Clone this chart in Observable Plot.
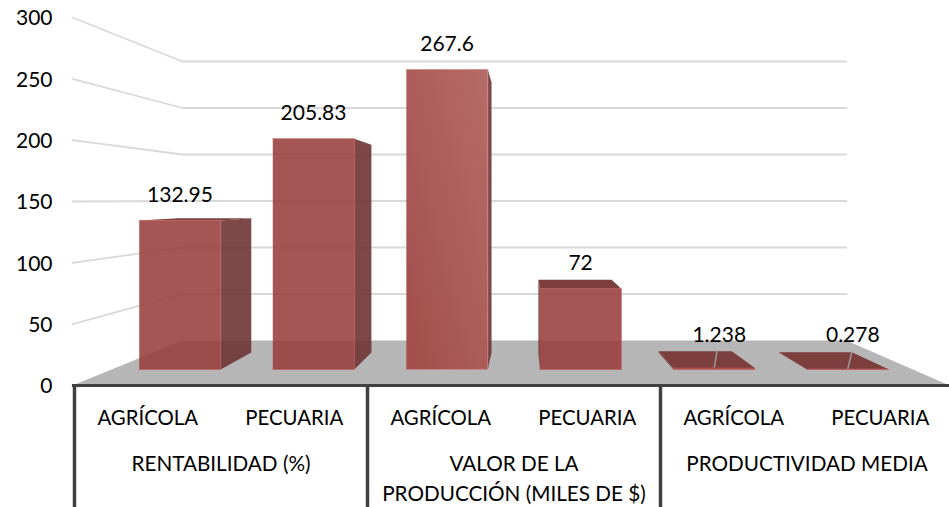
<!DOCTYPE html>
<html>
<head>
<meta charset="utf-8">
<style>html,body{margin:0;padding:0;background:#fff}svg{display:block}</style>
<script src="https://cdn.jsdelivr.net/npm/d3@7"></script>
<script src="https://cdn.jsdelivr.net/npm/@observablehq/plot@0.6"></script>
</head>
<body>
<script>
// --- Data ---
const subcategories = ["AGRÍCOLA","PECUARIA","AGRÍCOLA","PECUARIA","AGRÍCOLA","PECUARIA"];
const values = [132.95, 205.83, 267.6, 72, 1.238, 0.278];
const valueLabels = ["132.95","205.83","267.6","72","1.238","0.278"];
const groups = [["RENTABILIDAD (%)"],["VALOR DE LA","PRODUCCIÓN (MILES DE $)"],["PRODUCTIVIDAD MEDIA"]];
const wallTicks = [50,100,150,200,250,300];

// --- Perspective model, in scale units: t = 0 front of the floor, t = 1 back wall ---
const xLeft = t => -0.0137 + 0.7507*t;
const xRight = t => 5.973 - 0.704*t;
const floorY = t => 36.7*t;
const rise = t => 1 - 0.2419*t;
const px = (slot,t) => xLeft(t) + slot*(xRight(t)-xLeft(t))/6;
const py = (v,t) => floorY(t) + v*rise(t);
const tFront = 0.3556, tBack = 0.733, barW = 0.61, shift = 0.012;

const sides=[], tops=[], fronts=[], slits=[];
values.forEach((v,i)=>{
  const a = i+0.5-barW/2+shift, b = i+0.5+barW/2+shift;
  const P=(s,t,h)=>({x:px(s,t),y:py(h,t)});
  const poly=(arr,pts)=>pts.forEach(p=>arr.push({...p,id:i,value:v}));
  poly(fronts,[P(a,tFront,0),P(b,tFront,0),P(b,tFront,v),P(a,tFront,v)]);
  if (px(b,tBack)>px(b,tFront)) poly(sides,[P(b,tFront,0),P(b,tBack,0),P(b,tBack,v),P(b,tFront,v)]);
  if (px(a,tBack)<px(a,tFront)) poly(sides,[P(a,tFront,0),P(a,tBack,0),P(a,tBack,v),P(a,tFront,v)]);
  if (py(v,tBack)>py(v,tFront)) poly(tops,[P(a,tFront,v),P(b,tFront,v),P(b,tBack,v),P(a,tBack,v)]);
  if (v<5) {
    const c = P(i+0.5+shift,tFront,v), d = P(i+0.5+shift,tBack,v);
    slits.push({x:c.x,y:c.y,id:i},{x:c.x+0.02+(i-4)*0.008,y:d.y,id:i});
  }
});

const wall=[];
wallTicks.forEach(v=>{
  wall.push({x:xLeft(0),y:py(v,0),id:v},{x:xLeft(1),y:py(v,1),id:v},{x:xRight(1),y:py(v,1),id:v});
});
const floor=[{x:xLeft(0),y:0},{x:xLeft(1),y:floorY(1)},{x:xRight(1),y:floorY(1)},{x:xRight(0),y:0}];

const labels = values.map((v,i)=>({
  x: px(i+0.5+shift,tFront)+(v<5?0.035:0),
  y: Math.max(py(v,tFront)+20.4,40.8),
  text: valueLabels[i]
}));
const subLabels = subcategories.map((s,i)=>({x:i+0.5,text:s}));
const groupLabels = groups.flatMap((g,i)=>g.map((s,j)=>({x:2*i+1,y:j==0?-64.4:-89,text:s})));

const FONT = "Lato, Carlito, Calibri, sans-serif";
const chart = Plot.plot({
  width: 949, height: 507,
  marginLeft: 72, marginRight: 0, marginTop: 17, marginBottom: 122,
  style:{fontFamily:FONT,fontSize:"20px",color:"#000",background:"#fff",overflow:"visible"},
  x:{domain:[0,6],range:[74,953],axis:null},
  y:{domain:[0,300],label:null,ticks:[0,50,100,150,200,250,300]},
  marks:[
    Plot.axisY({anchor:"left",tickSize:0,tickPadding:20,label:null,fontSize:21,dy:1,ticks:[0,50,100,150,200,250,300],fill:"#000"}),
    Plot.line(wall,{x:"x",y:"y",z:"id",stroke:"#d9d9d9",strokeWidth:1.8,curve:"linear"}),
    Plot.line(floor,{x:"x",y:"y",fill:"#b6b6b6",stroke:"none",curve:"linear"}),
    Plot.line(sides,{x:"x",y:"y",z:"id",fill:"#6e3434",fillOpacity:0.9,stroke:"none",curve:"linear"}),
    Plot.line(tops,{x:"x",y:"y",z:"id",fill:"#7d3e3e",stroke:"none",curve:"linear"}),
    Plot.line(slits,{x:"x",y:"y",z:"id",stroke:"#9a9a9a",strokeWidth:1.5,curve:"linear"}),
    Plot.line(fronts.filter(d=>d.value<260),{x:"x",y:"y",z:"id",fill:"#983f3c",fillOpacity:0.88,stroke:"#c0605c",strokeWidth:1,strokeOpacity:0.7,curve:"linear"}),
    Plot.line(fronts.filter(d=>d.value>=260),{x:"x",y:"y",z:"id",fill:"url(#lightBar)",stroke:"#c98a87",strokeWidth:1,strokeOpacity:0.7,curve:"linear"}),
    Plot.text(labels,{x:"x",y:"y",text:"text",fontSize:21,fill:"#000",textAnchor:"middle"}),
    Plot.ruleY([0],{x1:-0.014,x2:5.973,stroke:"#404040",strokeWidth:3}),
    Plot.ruleX([0,2,4],{y1:0,y2:-100,stroke:"#404040",strokeWidth:3.5}),
    Plot.text(subLabels,{x:"x",y:()=>-27,text:"text",fontSize:20.4,fill:"#000"}),
    Plot.text(groupLabels,{x:"x",y:"y",text:"text",fontSize:20.7,fill:"#000"})
  ]
});
const defs = d3.select(chart).insert("defs",":first-child");
const g = defs.append("linearGradient").attr("id","lightBar").attr("x1",0).attr("y1",1).attr("x2",1).attr("y2",0);
g.append("stop").attr("offset",0).attr("stop-color","#a24e4b");
g.append("stop").attr("offset",1).attr("stop-color","#b66c68");
document.body.appendChild(chart);
</script>
</body>
</html>
